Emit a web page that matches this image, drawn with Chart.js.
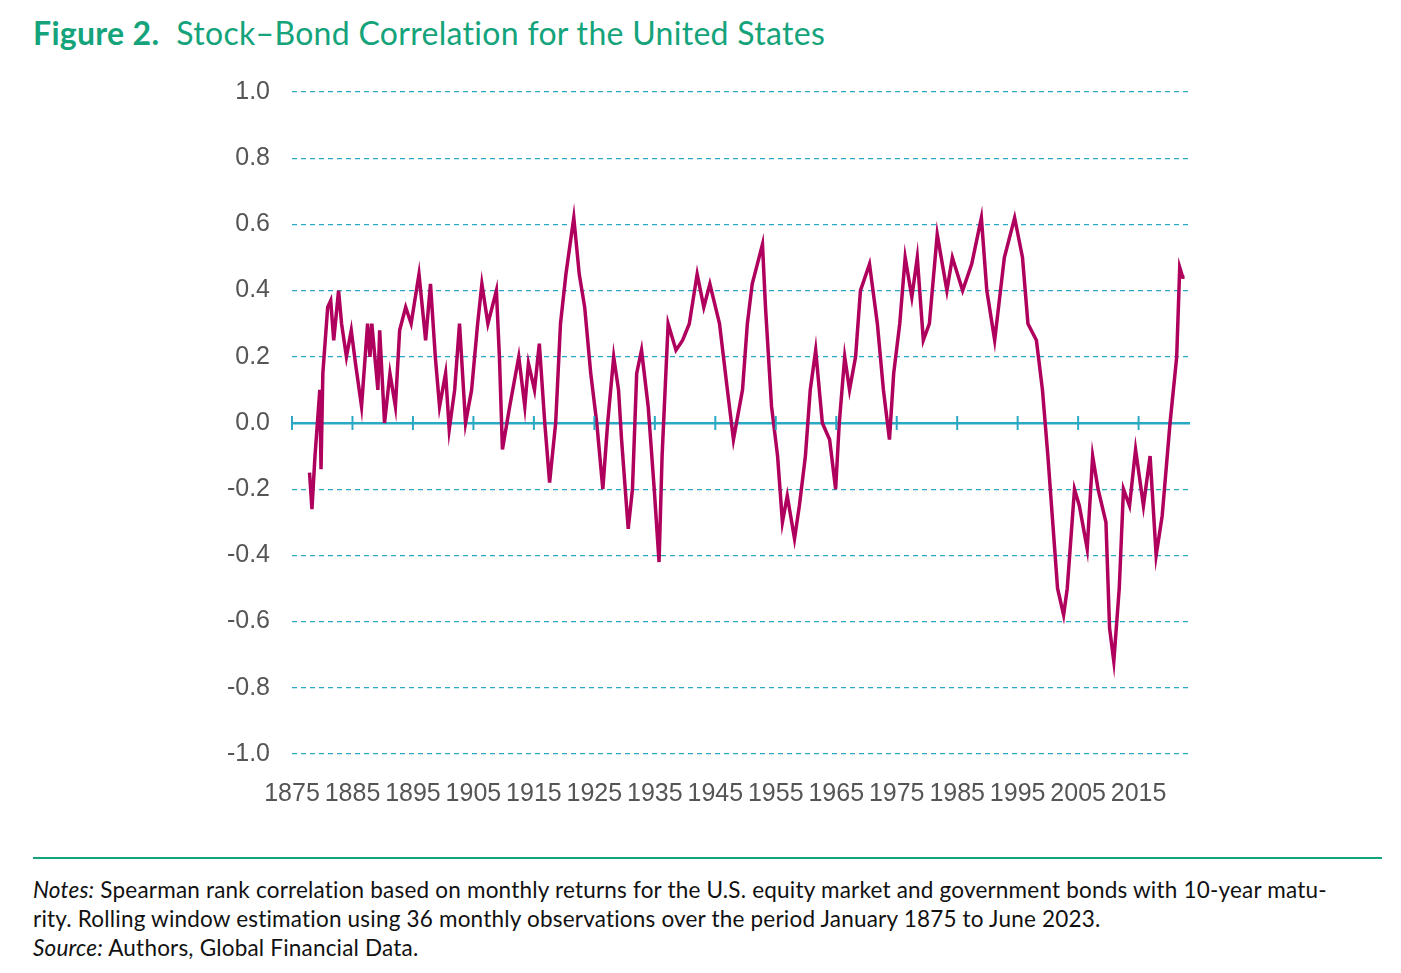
<!DOCTYPE html>
<html>
<head>
<meta charset="utf-8">
<script src="https://cdn.jsdelivr.net/npm/chart.js@4"></script>
<style>
  body { margin: 0; background: #fff; width: 1401px; height: 973px; position: relative; font-family: Lato, "Open Sans", sans-serif; }
  #titulo { position: absolute; left: 33px; top: 13px; font-size: 32px; color: #14a37a; letter-spacing: 0.3px; }
  #titulo b { font-weight: 700; }
  #wrap { position: absolute; left: 0; top: 0; width: 1401px; height: 820px; }
  #regla { position: absolute; left: 33px; top: 857px; width: 1349px; height: 2px; background: #14a37a; }
  #notas { position: absolute; left: 33px; top: 875px; width: 1360px; font-size: 22.5px; line-height: 29px; color: #111; letter-spacing: 0.2px; }
</style>
</head>
<body>
<div id="titulo"><b>Figure 2.</b>&nbsp; Stock–Bond Correlation for the United States</div>
<div id="wrap"><canvas id="chart"></canvas></div>
<div id="regla"></div>
<div id="notas"><i>Notes:</i> Spearman rank correlation based on monthly returns for the U.S. equity market and government bonds with 10-year matu-<br>rity. Rolling window estimation using 36 monthly observations over the period January 1875 to June 2023.<br><i>Source:</i> Authors, Global Financial Data.</div>
<script>
// ── Datos ─────────────────────────────────────────────────────────────
const ANIOS = [
  1877.9, 1878.3, 1878.8, 1879.6, 1879.8, 1880.1, 1880.9, 1881.4, 1881.9, 1882.7, 1883.2, 1884.0, 1884.8, 1885.5, 1886.5,
  1887.5, 1887.9, 1888.2, 1889.2, 1889.5, 1890.3, 1891.2, 1892.1, 1892.8, 1893.8, 1894.7, 1896.0, 1897.1, 1897.9, 1898.7,
  1899.4, 1900.4, 1901.0, 1901.9, 1902.7, 1903.7, 1904.7, 1905.7, 1906.4, 1907.4, 1908.8, 1909.3, 1909.8, 1911.0, 1912.5,
  1913.5, 1914.1, 1915.1, 1915.9, 1916.8, 1917.6, 1918.6, 1919.4, 1920.3, 1921.6, 1922.5, 1923.4, 1924.4, 1925.4, 1926.4,
  1927.2, 1928.2, 1929.0, 1929.5, 1930.6, 1931.3, 1932.0, 1932.8, 1933.9, 1934.9, 1935.7, 1936.2, 1937.2, 1938.5, 1939.6,
  1940.7, 1942.0, 1943.1, 1944.1, 1945.7, 1947.0, 1948.0, 1949.5, 1950.3, 1951.1, 1952.8, 1953.3, 1954.3, 1955.3, 1956.1,
  1956.9, 1958.1, 1958.9, 1959.9, 1960.7, 1961.6, 1962.7, 1963.9, 1964.9, 1965.5, 1966.4, 1967.2, 1968.2, 1969.0, 1970.5,
  1971.8, 1972.8, 1973.8, 1974.5, 1975.5, 1976.4, 1977.5, 1978.4, 1979.4, 1980.4, 1981.7, 1983.3, 1984.2, 1985.9, 1987.4,
  1989.0, 1989.9, 1991.2, 1992.8, 1994.5, 1995.8, 1996.7, 1998.1, 1999.1, 2000.0, 2000.8, 2001.6, 2002.6, 2003.2, 2004.4,
  2005.2, 2006.5, 2007.4, 2008.3, 2009.6, 2010.2, 2010.9, 2011.8, 2012.5, 2013.5, 2014.5, 2015.8, 2016.9, 2017.9, 2018.9,
  2020.2, 2021.3, 2021.8, 2022.3, 2022.6
];
const CORRELACION = [
  -0.15, -0.26, -0.10, 0.10, -0.14, 0.15, 0.35, 0.37, 0.25, 0.40, 0.30, 0.20, 0.28, 0.18, 0.05,
  0.30, 0.20, 0.30, 0.10, 0.28, 0.00, 0.15, 0.05, 0.28, 0.35, 0.30, 0.45, 0.25, 0.42, 0.20,
  0.05, 0.15, -0.02, 0.10, 0.30, 0.00, 0.10, 0.30, 0.42, 0.30, 0.40, 0.20, -0.08, 0.05, 0.20,
  0.05, 0.18, 0.10, 0.24, 0.00, -0.18, 0.00, 0.30, 0.45, 0.62, 0.45, 0.35, 0.15, 0.00, -0.20,
  0.00, 0.20, 0.10, -0.05, -0.32, -0.20, 0.15, 0.22, 0.05, -0.20, -0.42, -0.10, 0.30, 0.22, 0.25,
  0.30, 0.45, 0.35, 0.42, 0.30, 0.10, -0.05, 0.10, 0.30, 0.42, 0.54, 0.35, 0.05, -0.10, -0.30,
  -0.22, -0.35, -0.25, -0.10, 0.10, 0.22, 0.00, -0.05, -0.20, 0.00, 0.20, 0.10, 0.20, 0.40, 0.48,
  0.30, 0.10, -0.05, 0.15, 0.30, 0.50, 0.38, 0.50, 0.25, 0.30, 0.57, 0.40, 0.50, 0.40, 0.48,
  0.62, 0.40, 0.25, 0.50, 0.62, 0.50, 0.30, 0.25, 0.10, -0.10, -0.30, -0.50, -0.58, -0.50, -0.20,
  -0.25, -0.38, -0.10, -0.20, -0.30, -0.62, -0.72, -0.50, -0.20, -0.25, -0.08, -0.25, -0.10, -0.40, -0.28,
  0.00, 0.20, 0.47, 0.44, 0.44
];
const TICKS_X = [1875, 1885, 1895, 1905, 1915, 1925, 1935, 1945, 1955, 1965, 1975, 1985, 1995, 2005, 2015];

const C_LINEA = "#b0005e";
const C_GRID  = "#2aa8c4";
const C_TEXTO = "#555555";

// Marcas cortas sobre la línea del cero
const marcasCero = {
  id: "marcasCero",
  afterDatasetsDraw(chart) {
    const { ctx, scales: { x, y } } = chart;
    const y0 = y.getPixelForValue(0);
    ctx.save();
    ctx.strokeStyle = C_GRID;
    ctx.lineWidth = 2;
    TICKS_X.forEach(t => {
      const px = x.getPixelForValue(t);
      ctx.beginPath(); ctx.moveTo(px, y0 - 7); ctx.lineTo(px, y0 + 7); ctx.stroke();
    });
    ctx.restore();
  },
};

new Chart(document.getElementById("chart"), {
  type: "line",
  data: {
    datasets: [{
      data: ANIOS.map((a, i) => ({ x: a, y: CORRELACION[i] })),
      borderColor: C_LINEA, borderWidth: 3.5, pointRadius: 0, tension: 0,
    }],
  },
  options: {
    responsive: true, maintainAspectRatio: false, animation: false,
    layout: { padding: { top: 92, right: 211, left: 0, bottom: 0 } },
    plugins: { legend: { display: false }, tooltip: { enabled: false } },
    scales: {
      x: {
        type: "linear", min: 1875, max: 2023.5,
        afterBuildTicks: s => { s.ticks = TICKS_X.map(v => ({ value: v })); },
        afterFit: s => { s.height = 66; },
        grid: { display: false }, border: { display: false },
        ticks: { color: C_TEXTO, font: { family: "Liberation Sans, Arial", size: 25 },
                 maxRotation: 0, autoSkip: false, padding: 17, callback: v => String(v) },
      },
      y: {
        min: -1, max: 1,
        afterFit: s => { s.width = 292; },
        ticks: { stepSize: 0.2, color: C_TEXTO, font: { family: "Liberation Sans, Arial", size: 25 },
                 padding: 22, callback: v => (Math.abs(v) < 1e-9 ? 0 : v).toFixed(1) },
        grid: { drawTicks: false, color: C_GRID,
                lineWidth: c => (Math.abs(c.tick.value) < 1e-9 ? 2.5 : 1.2) },
        border: { display: false, dash: c => (Math.abs(c.tick.value) < 1e-9 ? [] : [5, 4]) },
      },
    },
  },
  plugins: [marcasCero],
});
</script>
</body>
</html>
